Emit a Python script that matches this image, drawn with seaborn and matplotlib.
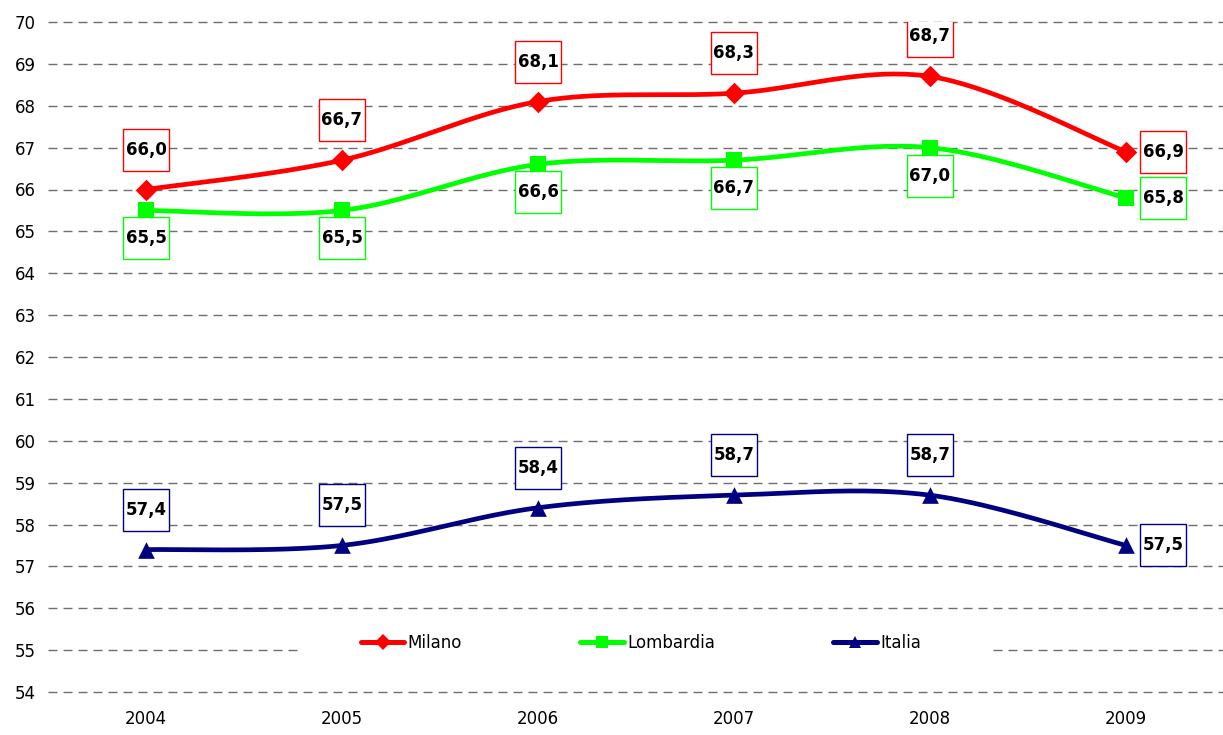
import numpy as np
import pandas as pd
import matplotlib
matplotlib.use("Agg")
import matplotlib.pyplot as plt
import matplotlib.transforms as mtransforms
from matplotlib.patches import Rectangle
from matplotlib.lines import Line2D
import seaborn as sns

# ---- data ----
years = ["2004", "2005", "2006", "2007", "2008", "2009"]
milano = [66.0, 66.7, 68.1, 68.3, 68.7, 66.9]
lombardia = [65.5, 65.5, 66.6, 66.7, 67.0, 65.8]
italia = [57.4, 57.5, 58.4, 58.7, 58.7, 57.5]
series_names = ["Milano", "Lombardia", "Italia"]
y_ticks = list(range(54, 71))

sns.set_theme(style="white")
plt.rcParams['font.family'] = ['DejaVu Sans']
plt.rcParams['text.color'] = 'black'
plt.rcParams['xtick.color'] = 'black'
plt.rcParams['ytick.color'] = 'black'

DPI = 100
fig = plt.figure(figsize=(12.23, 7.35), dpi=DPI)
ax = fig.add_axes([48 / 1223, 1 - 692 / 735, 1176 / 1223, 670 / 735])

xpos = np.arange(len(years))


def smooth(xs, ys, n=40):
    pts = np.column_stack([xs, ys]).astype(float)
    out = []
    m = len(pts)
    t = np.linspace(0, 1, n)[:, None]
    for i in range(m - 1):
        p0 = pts[i - 1] if i > 0 else pts[i]
        p1 = pts[i]
        p2 = pts[i + 1]
        p3 = pts[i + 2] if i + 2 < m else pts[i + 1]
        c1 = p1 + (p2 - p0) / 6
        c2 = p2 - (p3 - p1) / 6
        seg = ((1 - t) ** 3) * p1 + 3 * ((1 - t) ** 2) * t * c1 + 3 * (1 - t) * t ** 2 * c2 + t ** 3 * p2
        out.append(seg if i == 0 else seg[1:])
    seg = np.vstack(out)
    return seg[:, 0], seg[:, 1]


specs = [
    ("Milano", milano, "#FF0000", "D", 11, "above"),
    ("Lombardia", lombardia, "#00FF00", "s", 11, "below"),
    ("Italia", italia, "#000080", "^", 12, "above"),
]

for name, vals, col, mk, ms, pos in specs:
    sx, sy = smooth(xpos, vals)
    sns.lineplot(x=sx, y=sy, ax=ax, color=col, linewidth=3.4, sort=False,
                 estimator=None, zorder=3)
    sns.scatterplot(x=xpos, y=vals, ax=ax, color=col, marker=mk, s=ms ** 2,
                    edgecolor=col, linewidth=0, zorder=4)

# data labels with boxes
box_w, box_h = 46, 42  # px
for name, vals, col, mk, ms, pos in specs:
    for i, v in enumerate(vals):
        if i == len(vals) - 1:
            dx, dy = 37, 0
        elif pos == "above":
            dx, dy = 0, 40
        else:
            dx, dy = 0, -28
        trans = fig.dpi_scale_trans + mtransforms.ScaledTranslation(xpos[i], v, ax.transData)
        rect = Rectangle(((dx - box_w / 2) / DPI, (dy - box_h / 2) / DPI), box_w / DPI, box_h / DPI,
                         transform=trans, facecolor="white", edgecolor=col, linewidth=1.0,
                         zorder=5)
        ax.add_patch(rect)
        ax.annotate(f"{v:.1f}".replace(".", ","), (xpos[i], v),
                    xytext=(dx * 0.72, dy * 0.72), textcoords="offset points",
                    ha="center", va="center", fontsize=12, fontweight="bold",
                    color="black", zorder=6)

ax.set_xlim(-0.5, 5.5)
ax.set_ylim(54, 70)
ax.set_xticks(xpos)
ax.set_xticklabels(years, fontsize=12)
ax.set_yticks(y_ticks)
ax.set_yticklabels([str(t) for t in y_ticks], fontsize=12)
ax.tick_params(axis="both", length=0)
ax.tick_params(axis="x", pad=13)
ax.tick_params(axis="y", pad=9)
ax.yaxis.grid(True, color="#6e6e6e", linestyle=(0, (6.5, 4.3)), linewidth=1.0)
ax.xaxis.grid(False)
ax.set_axisbelow(True)
for gl in ax.get_ygridlines():
    gl.set_clip_on(False)
for s in ax.spines.values():
    s.set_visible(False)
ax.set_xlabel("")
ax.set_ylabel("")

# white area behind legend (hides gridline)
ax.add_patch(Rectangle(((303 - 48) / 1176, (692 - 668) / 670), (988 - 303) / 1176, 53 / 670,
                       transform=ax.transAxes, facecolor="white", edgecolor="none", zorder=1))

handles = [
    Line2D([], [], color="#FF0000", lw=3.6, marker="D", markersize=8, markeredgewidth=0),
    Line2D([], [], color="#00FF00", lw=3.6, marker="s", markersize=8, markeredgewidth=0),
    Line2D([], [], color="#000080", lw=3.6, marker="^", markersize=9, markeredgewidth=0),
]
leg = ax.legend(handles, series_names, loc="center", bbox_to_anchor=((641 - 48) / 1176, (692 - 643) / 670),
                ncol=3, frameon=False, fontsize=12, handlelength=2.6, handletextpad=0.2,
                columnspacing=7.1)
leg.set_zorder(7)

fig.savefig("out.png", dpi=DPI, facecolor="white")
